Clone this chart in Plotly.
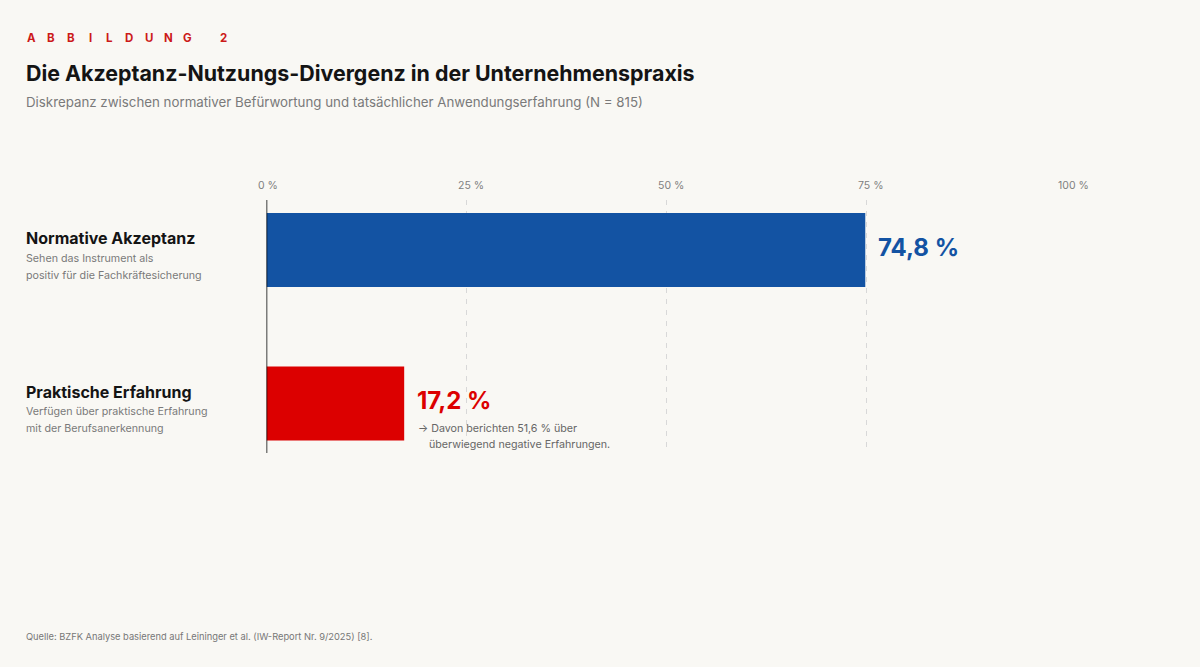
import plotly.graph_objects as go

categories = ["Normative Akzeptanz", "Praktische Erfahrung"]
descriptions = [
    ["Sehen das Instrument als", "positiv für die Fachkräftesicherung"],
    ["Verfügen über praktische Erfahrung", "mit der Berufsanerkennung"],
]
values = [74.8, 17.2]
value_labels = ["74,8 %", "17,2 %"]
bar_colors = ["#1353A3", "#DC0000"]
tick_vals = [0, 25, 50, 75, 100]
tick_text = ["0 %", "25 %", "50 %", "75 %", "100 %"]
note_lines = ["→ Davon berichten 51,6 % über", "überwiegend negative Erfahrungen."]

W, H = 1200, 667
BG = "#F9F8F4"
FONT = "Inter"

def px(x):
    return x / W

def py(y):
    return 1 - y / H

ypos = list(range(len(categories)))

fig = go.Figure()
fig.add_trace(go.Bar(
    x=values, y=ypos, orientation="h",
    marker=dict(color=bar_colors, line=dict(width=0)),
    width=0.482, hoverinfo="skip",
))

ann = []
# Eyebrow with wide letter spacing
eyebrow = "ABBILDUNG"
for i, ch in enumerate(eyebrow):
    ann.append(dict(x=px(31.7 + i * 19.5), y=py(38), xref="paper", yref="paper",
                    text=ch, showarrow=False, xanchor="center", yanchor="middle",
                    font=dict(family=FONT, size=11.5, color="#CC1A1A", weight=700)))
ann.append(dict(x=px(223.5), y=py(38), xref="paper", yref="paper", text="2",
                showarrow=False, xanchor="center", yanchor="middle",
                font=dict(family=FONT, size=11.5, color="#CC1A1A", weight=700)))
ann.append(dict(x=px(24), y=py(73), xref="paper", yref="paper",
                text="Die Akzeptanz-Nutzungs-Divergenz in der Unternehmenspraxis",
                showarrow=False, xanchor="left", yanchor="middle",
                font=dict(family=FONT, size=21.4, color="#141414", weight=700)))
ann.append(dict(x=px(24), y=py(102), xref="paper", yref="paper",
                text="Diskrepanz zwischen normativer Befürwortung und tatsächlicher Anwendungserfahrung (N = 815)",
                showarrow=False, xanchor="left", yanchor="middle",
                font=dict(family=FONT, size=13.3, color="#7a7a7a")))
ann.append(dict(x=px(24), y=py(636), xref="paper", yref="paper",
                text="Quelle: BZFK Analyse basierend auf Leininger et al. (IW-Report Nr. 9/2025) [8].",
                showarrow=False, xanchor="left", yanchor="middle",
                font=dict(family=FONT, size=9.3, color="#777777")))

# Tick labels (left-aligned just before each gridline)
for tv, tt in zip(tick_vals, tick_text):
    ann.append(dict(x=tv, y=py(185), xref="x", yref="paper", text=tt,
                    showarrow=False, xanchor="left", yanchor="middle", xshift=-11,
                    font=dict(family=FONT, size=10.5, color="#808080")))

# Category labels
for i, (cat, desc) in enumerate(zip(categories, descriptions)):
    ann.append(dict(x=px(24), y=i, xref="paper", yref="y", text=cat,
                    showarrow=False, xanchor="left", yanchor="middle", yshift=12,
                    font=dict(family=FONT, size=16, color="#141414", weight=700)))
    for j, line in enumerate(desc):
        ann.append(dict(x=px(24), y=i, xref="paper", yref="y", text=line,
                        showarrow=False, xanchor="left", yanchor="middle",
                        yshift=-8 - 17 * j,
                        font=dict(family=FONT, size=10.7, color="#7a7a7a")))

# Value labels
ann.append(dict(x=values[0], y=0, xref="x", yref="y", text=value_labels[0],
                showarrow=False, xanchor="left", yanchor="middle", xshift=11, yshift=3,
                font=dict(family=FONT, size=24, color=bar_colors[0], weight=700)))
ann.append(dict(x=values[1], y=1, xref="x", yref="y", text=value_labels[1],
                showarrow=False, xanchor="left", yanchor="middle", xshift=11, yshift=3,
                font=dict(family=FONT, size=24, color=bar_colors[1], weight=700)))
ann.append(dict(x=values[1], y=1, xref="x", yref="y", text=note_lines[0],
                showarrow=False, xanchor="left", yanchor="middle", xshift=12, yshift=-25,
                font=dict(family=FONT, size=10.7, color="#666666")))
ann.append(dict(x=values[1], y=1, xref="x", yref="y", text=note_lines[1],
                showarrow=False, xanchor="left", yanchor="middle", xshift=23, yshift=-41,
                font=dict(family=FONT, size=10.7, color="#666666")))

fig.update_layout(
    width=W, height=H,
    margin=dict(l=0, r=0, t=0, b=0, autoexpand=False),
    paper_bgcolor=BG, plot_bgcolor=BG,
    showlegend=False,
    font=dict(family=FONT),
    annotations=ann,
    xaxis=dict(
        domain=[266.5 / W, 1067 / W], range=[0, 100], side="top",
        tickvals=tick_vals, showticklabels=False,
        showgrid=True, gridcolor="#d8d8d8", griddash="5px,6px", gridwidth=1,
        zeroline=False, showline=False, ticks="", automargin=False,
        fixedrange=True,
    ),
    yaxis=dict(
        domain=[1 - 453 / H, 1 - 200 / H], range=[1.322, -0.326],
        showticklabels=False, showgrid=False, zeroline=False, showline=False,
        automargin=False, fixedrange=True,
    ),
    shapes=[dict(type="line", xref="x", yref="paper", x0=0, x1=0,
                 y0=1 - 453 / H, y1=1 - 200 / H,
                 line=dict(color="#000000", width=1.5))],
)

fig.write_html("out.html")
